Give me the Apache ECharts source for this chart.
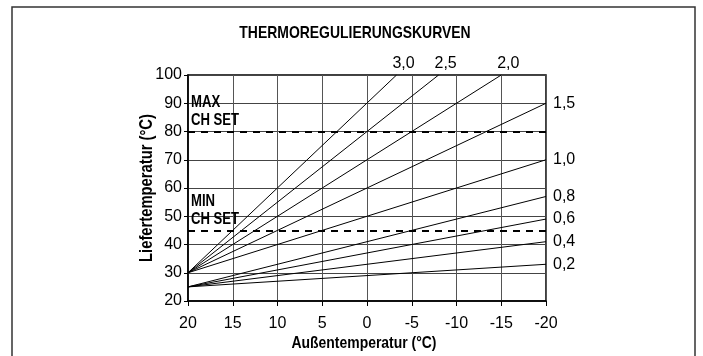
<!DOCTYPE html>
<html>
<head>
<meta charset="utf-8">
<title>Thermoregulierungskurven</title>
<script src="https://cdn.jsdelivr.net/npm/echarts@6/dist/echarts.min.js"></script>
<style>
  html, body { margin: 0; padding: 0; background: #fff; }
  #chart { width: 703px; height: 356px; }
</style>
</head>
<body>
<div id="chart"></div>
<script>
// Heating curves: flow temperature vs. outdoor temperature
const curveNames   = ['3,0', '2,5', '2,0', '1,5', '1,0', '0,8', '0,6', '0,4', '0,2'];
// flow temperature at +20 °C outdoor
const startOutdoor = [20, 20, 20, 20, 20, 20, 20, 20, 20];
const startFlow    = [30, 30, 30, 30, 30, 25, 25, 25, 25];
// where each curve leaves the chart (top edge or -20 °C)
const endOutdoor   = [-3.3, -8, -15, -20, -20, -20, -20, -20, -20];
const endFlow      = [100, 100, 100, 90, 70, 57, 49, 41, 33];
// set-point limits
const maxChSet = 80;
const minChSet = 45;
const setPointCaptions = ['MAX\nCH SET', 'MIN\nCH SET'];
const xTicks = { min: -20, max: 20, step: 5 };
const yTicks = { min: 20, max: 100, step: 10 };
const chartTitle = 'THERMOREGULIERUNGSKURVEN';
const xName = 'Außentemperatur (°C)';
const yName = 'Liefertemperatur (°C)';

const FONT = "'Liberation Sans', Arial, sans-serif";
const NARROW = 0.82; // horizontal squeeze for the condensed bold captions

const chart = echarts.init(document.getElementById('chart'), null, { renderer: 'canvas' });

const series = curveNames.map((name, i) => {
  const atTop = endFlow[i] >= yTicks.max;
  return {
    name: name,
    type: 'line',
    symbol: 'circle',
    symbolSize: 0,
    showSymbol: true,
    silent: true,
    lineStyle: { color: '#000', width: 1 },
    itemStyle: { color: '#000' },
    label: { show: false },
    data: [
      [startOutdoor[i], startFlow[i]],
      {
        value: [endOutdoor[i], endFlow[i]],
        label: {
          show: true,
          formatter: name,
          position: atTop ? 'top' : 'right',
          distance: atTop ? 3 : 7,
          offset: atTop ? [7, 0] : [0, 0],
          color: '#000',
          fontFamily: FONT,
          fontSize: 16
        }
      }
    ]
  };
});

// dashed set-point lines
series.push({
  name: 'CH SET',
  type: 'line',
  data: [],
  silent: true,
  markLine: {
    silent: true,
    symbol: 'none',
    animation: false,
    lineStyle: { color: '#000', width: 2, type: [7, 6] },
    label: { show: false },
    data: [{ yAxis: maxChSet }, { yAxis: minChSet }]
  }
});

const option = {
  animation: false,
  backgroundColor: '#fff',
  grid: {
    left: 188, top: 75, width: 358, height: 226,
    show: true, borderColor: '#000', borderWidth: 1.5, backgroundColor: 'transparent'
  },
  xAxis: {
    type: 'value',
    inverse: true,
    min: xTicks.min, max: xTicks.max, interval: xTicks.step,
    axisLine: { show: true, onZero: false, lineStyle: { color: '#000', width: 1.5 } },
    axisTick: { show: true, length: 5, lineStyle: { color: '#000', width: 1 } },
    axisLabel: { margin: 15, fontFamily: FONT, fontSize: 16, color: '#000' },
    splitLine: { show: true, lineStyle: { color: '#555', width: 1 } }
  },
  yAxis: {
    type: 'value',
    min: yTicks.min, max: yTicks.max, interval: yTicks.step,
    axisLine: { show: true, onZero: false, lineStyle: { color: '#000', width: 1.5 } },
    axisTick: { show: true, length: 4, lineStyle: { color: '#000', width: 1 } },
    axisLabel: { margin: 6, fontFamily: FONT, fontSize: 16, color: '#000' },
    splitLine: { show: true, lineStyle: { color: '#444', width: 1 } }
  },
  series: series
};

chart.setOption(option);

// Captions in a condensed bold face, placed from the grid's pixel geometry
function boldText(id, text, x, y, size, align, vAlign, rotation, extra) {
  return Object.assign({
    type: 'text', id: id, silent: true,
    x: x, y: y, rotation: rotation || 0,
    scaleX: NARROW, scaleY: 1,
    style: {
      text: text, fill: '#000',
      font: 'bold ' + size + 'px ' + FONT,
      align: align, verticalAlign: vAlign
    }
  }, extra || {});
}

const topLeft = chart.convertToPixel({ gridIndex: 0 }, [xTicks.max, yTicks.max]);
const bottomRight = chart.convertToPixel({ gridIndex: 0 }, [xTicks.min, yTicks.min]);
const midX = (topLeft[0] + bottomRight[0]) / 2;
const midY = (topLeft[1] + bottomRight[1]) / 2;
const maxPx = chart.convertToPixel({ gridIndex: 0 }, [xTicks.max, maxChSet]);
const minPx = chart.convertToPixel({ gridIndex: 0 }, [xTicks.max, minChSet]);

const graphics = [
  {
    type: 'rect', id: 'frame', silent: true,
    shape: { x: 12, y: 7, width: 683, height: 360 },
    style: { fill: 'none', stroke: '#333', lineWidth: 1.5 }
  },
  boldText('title', chartTitle, midX - 12, topLeft[1] - 42, 17, 'center', 'middle'),
  boldText('xname', xName, midX - 3, bottomRight[1] + 42, 17, 'center', 'middle'),
  boldText('yname', yName, topLeft[0] - 41, midY, 18, 'center', 'middle', Math.PI / 2),
  boldText('maxcap', setPointCaptions[0], maxPx[0] + 3, maxPx[1] - 1.5, 16, 'left', 'bottom', 0,
    { style: { text: setPointCaptions[0], fill: '#000', font: 'bold 16px ' + FONT, align: 'left', verticalAlign: 'bottom', lineHeight: 18.5 } }),
  boldText('mincap', setPointCaptions[1], minPx[0] + 3, minPx[1] - 1.5, 16, 'left', 'bottom', 0,
    { style: { text: setPointCaptions[1], fill: '#000', font: 'bold 16px ' + FONT, align: 'left', verticalAlign: 'bottom', lineHeight: 18.5 } })
];

chart.setOption({ graphic: graphics });
</script>
</body>
</html>
